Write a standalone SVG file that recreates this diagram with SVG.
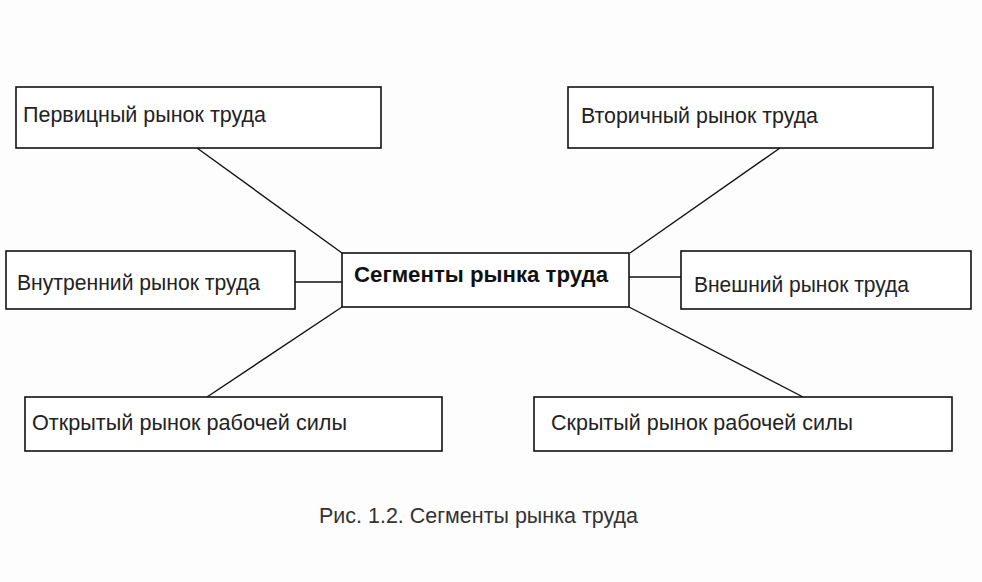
<svg xmlns="http://www.w3.org/2000/svg" width="982" height="582" viewBox="0 0 982 582">
<style>
.box{fill:#fff;stroke:#111;stroke-width:1.6}
.t{font-family:"Liberation Sans",Arial,sans-serif;font-size:21.5px;fill:#222}
.b{font-weight:bold;font-size:22.3px;fill:#111}
.cap{fill:#333}
.c{stroke:#111;stroke-width:1.4;fill:none}
</style>
<rect width="982" height="582" fill="#fdfdfd"/>
<g id="connectors">
<line class="c" x1="197" y1="148" x2="342" y2="253"/>
<line class="c" x1="295" y1="282" x2="342" y2="282"/>
<line class="c" x1="342" y1="307" x2="207" y2="397"/>
<line class="c" x1="780" y1="148" x2="630" y2="253"/>
<line class="c" x1="629" y1="277" x2="681" y2="277"/>
<line class="c" x1="629" y1="307" x2="803" y2="397"/>
</g>
<g id="center"><rect class="box" x="342" y="253" width="287" height="54"/><text class="t b" x="354" y="282" textLength="254" lengthAdjust="spacingAndGlyphs">Сегменты рынка труда</text></g>
<g id="primary"><rect class="box" x="16" y="87" width="365" height="61"/><text class="t" x="23" y="122" textLength="243" lengthAdjust="spacingAndGlyphs">Первицный рынок труда</text></g>
<g id="internal"><rect class="box" x="6" y="251" width="289" height="58"/><text class="t" x="17" y="290" textLength="243" lengthAdjust="spacingAndGlyphs">Внутренний рынок труда</text></g>
<g id="open"><rect class="box" x="25" y="397" width="417" height="54"/><text class="t" x="32" y="430" textLength="315" lengthAdjust="spacingAndGlyphs">Открытый рынок рабочей силы</text></g>
<g id="secondary"><rect class="box" x="568" y="87" width="365" height="61"/><text class="t" x="581" y="123" textLength="237" lengthAdjust="spacingAndGlyphs">Вторичный рынок труда</text></g>
<g id="external"><rect class="box" x="681" y="251" width="290" height="58"/><text class="t" x="694" y="292" textLength="215" lengthAdjust="spacingAndGlyphs">Внешний рынок труда</text></g>
<g id="hidden"><rect class="box" x="534" y="397" width="418" height="54"/><text class="t" x="551" y="430" textLength="302" lengthAdjust="spacingAndGlyphs">Скрытый рынок рабочей силы</text></g>
<text class="t cap" x="319" y="523" textLength="319" lengthAdjust="spacingAndGlyphs">Рис. 1.2. Сегменты рынка труда</text>
</svg>
